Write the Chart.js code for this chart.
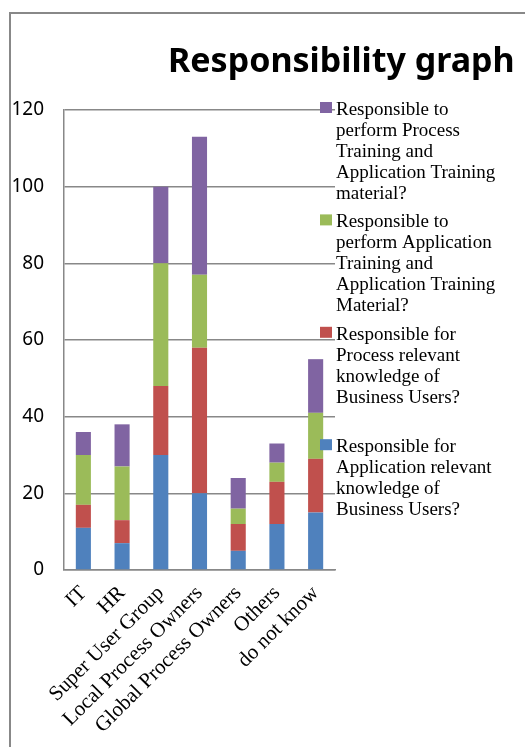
<!DOCTYPE html>
<html>
<head>
<meta charset="utf-8">
<title>Responsibility graph</title>
<script src="https://cdn.jsdelivr.net/npm/chart.js@4.4.1/dist/chart.umd.min.js"></script>
<style>
  body { margin: 0; background: #fff; }
  #wrap { position: relative; width: 525px; height: 747px; overflow: hidden; }
  #frame { position: absolute; left: 9px; top: 12px; width: 600px; height: 800px; border: 2px solid #888; }
  #chart { position: absolute; left: 0; top: 0; }
</style>
</head>
<body>
<div id="wrap">
  <div id="frame"></div>
  <canvas id="chart" width="525" height="747"></canvas>
</div>
<script>
'use strict';

var categories = ['IT', 'HR', 'Super User Group', 'Local Process Owners',
  'Global Process Owners', 'Others', 'do not know'];

// stacked from the bottom up
var appKnowledge = [11, 7, 30, 20, 5, 12, 15];
var processKnowledge = [6, 6, 18, 38, 7, 11, 14];
var appTraining = [13, 14, 32, 19, 4, 5, 12];
var processTraining = [6, 11, 20, 36, 8, 5, 14];

var yMin = 0;
var yMax = 120;
var yStep = 20;

// legend text, wrapped the way the original is
var appKnowledgeName = ['Responsible for', 'Application relevant', 'knowledge of', 'Business Users?'];
var processKnowledgeName = ['Responsible for', 'Process relevant', 'knowledge of', 'Business Users?'];
var appTrainingName = ['Responsible to', 'perform Application', 'Training and', 'Application Training', 'Material?'];
var processTrainingName = ['Responsible to', 'perform Process', 'Training and', 'Application Training', 'material?'];

var titleText = 'Responsibility graph';

var gray = '#888888';

// title and the wrapped legend on the right
var sideText = {
  id: 'sideText',
  afterDraw: function(chart) {
    var c = chart.ctx;
    c.save();
    c.fillStyle = '#000';
    c.font = 'bold 34px "Noto Sans"';
    c.textAlign = 'left';
    c.textBaseline = 'alphabetic';
    c.fillText(titleText, 168, 72);

    c.font = '19px "Liberation Serif"';
    c.textBaseline = 'middle';
    var sets = chart.data.datasets;
    for (var k = 0; k < sets.length; k++) {
      var ds = sets[sets.length - 1 - k];
      var top = 110 + k * 112.4;
      c.fillStyle = ds.backgroundColor;
      c.fillRect(320, top - 8, 12, 11);
      c.fillStyle = '#000';
      for (var j = 0; j < ds.nameLines.length; j++) {
        c.fillText(ds.nameLines[j], 336, top + j * 21);
      }
    }
    c.restore();
  }
};

function makeDataset(lines, values, color) {
  return {
    label: lines.join(' '),
    nameLines: lines,
    data: values,
    backgroundColor: color,
    borderWidth: 0,
    barPercentage: 0.39,
    categoryPercentage: 1
  };
}

var ctx = document.getElementById('chart').getContext('2d');

var chart = new Chart(ctx, {
  type: 'bar',
  data: {
    labels: categories,
    datasets: [
      makeDataset(appKnowledgeName, appKnowledge, '#4F81BD'),
      makeDataset(processKnowledgeName, processKnowledge, '#C0504D'),
      makeDataset(appTrainingName, appTraining, '#9BBB59'),
      makeDataset(processTrainingName, processTraining, '#8064A2')
    ]
  },
  options: {
    responsive: false,
    animation: false,
    layout: { padding: { left: 11, right: 190, top: 110, bottom: 0 } },
    plugins: {
      legend: { display: false },
      title: { display: false },
      tooltip: { enabled: false }
    },
    scales: {
      x: {
        stacked: true,
        grid: { display: false },
        border: { display: true, color: gray, width: 1.5 },
        ticks: {
          autoSkip: false,
          maxRotation: 45,
          minRotation: 45,
          padding: 3,
          color: '#000',
          font: { family: '"Liberation Serif"', size: 21 }
        },
        afterFit: function(scale) { scale.height = 177; }
      },
      y: {
        stacked: true,
        min: yMin,
        max: yMax,
        grid: { color: gray, lineWidth: 1.5, drawTicks: false },
        border: { display: true, color: gray, width: 1.5 },
        ticks: {
          stepSize: yStep,
          padding: 20,
          color: '#000',
          font: { family: '"Noto Sans"', size: 19 }
        },
        afterFit: function(scale) { scale.width = 53; }
      }
    }
  },
  plugins: [sideText]
});
</script>
</body>
</html>
